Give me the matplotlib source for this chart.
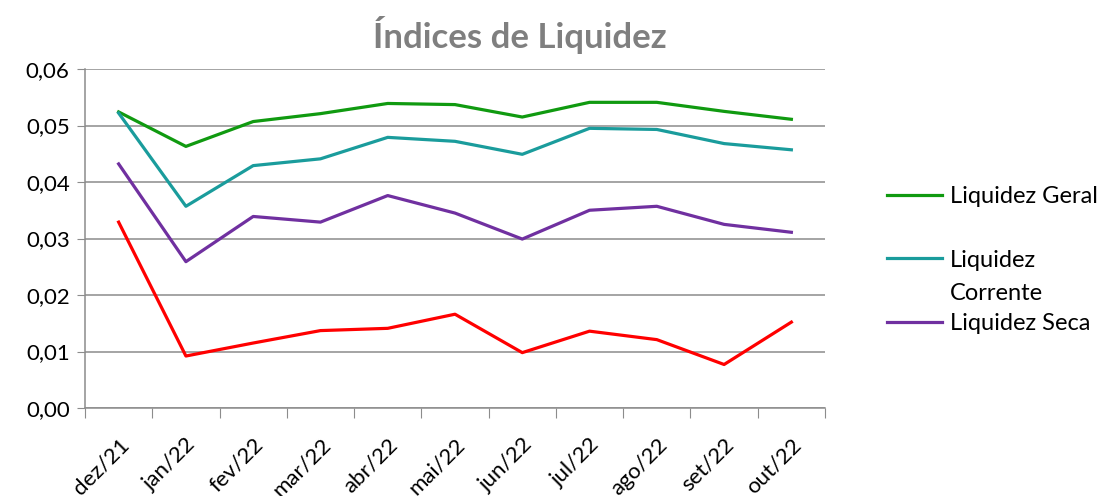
import matplotlib
matplotlib.use("Agg")
import matplotlib.pyplot as plt
from matplotlib.ticker import FuncFormatter

plt.rcParams['font.family'] = ['Lato', 'DejaVu Sans']

categories = ["dez/21", "jan/22", "fev/22", "mar/22", "abr/22", "mai/22",
              "jun/22", "jul/22", "ago/22", "set/22", "out/22"]
liq_geral = [0.0524, 0.0463, 0.0507, 0.0521, 0.0539, 0.0537, 0.0515, 0.0541, 0.0541, 0.0525, 0.0511]
liq_corrente = [0.0522, 0.0357, 0.0429, 0.0441, 0.0479, 0.0472, 0.0449, 0.0495, 0.0493, 0.0468, 0.0457]
liq_seca = [0.0432, 0.0259, 0.0339, 0.0329, 0.0376, 0.0345, 0.0299, 0.0350, 0.0357, 0.0325, 0.0311]
liq_imediata = [0.0329, 0.0092, 0.0115, 0.0137, 0.0141, 0.0166, 0.0098, 0.0136, 0.0121, 0.0077, 0.0152]
y_ticks = [0.00, 0.01, 0.02, 0.03, 0.04, 0.05, 0.06]

W, H = 1105, 496
fig = plt.figure(figsize=(W / 100, H / 100), dpi=100)
ax = fig.add_axes([85/W, 88/H, 740/W, 339/H])

x = list(range(len(categories)))
lw = 2.3
l1, = ax.plot(x, liq_geral, color="#109A10", lw=lw, label="Liquidez Geral")
l2, = ax.plot(x, liq_corrente, color="#1A9C9C", lw=lw, label="Liquidez")
l3, = ax.plot(x, liq_seca, color="#7030A0", lw=lw, label="Liquidez Seca")
l4, = ax.plot(x, liq_imediata, color="#FF0000", lw=lw)

ax.set_xlim(-0.5, len(categories) - 0.5)
ax.set_ylim(0, 0.06)
ax.set_yticks(y_ticks)
ax.yaxis.set_major_formatter(FuncFormatter(lambda v, p: f"{v:.2f}".replace(".", ",")))
ax.grid(axis="y", color="#8c8c8c", lw=1.1)
ax.set_axisbelow(True)

# category ticks at boundaries, labels at centers
ax.set_xticks([i - 0.5 for i in range(len(categories) + 1)])
ax.set_xticklabels([])
ax.set_xticks(x, minor=True)
ax.set_xticklabels(categories, minor=True, rotation=45, ha="right", va="top",
                   rotation_mode="anchor", fontsize=16)
ax.tick_params(axis="x", which="minor", length=0, pad=19)
ax.tick_params(axis="x", which="major", length=7, color="#8c8c8c", direction="out")
ax.tick_params(axis="y", length=6, color="#8c8c8c", labelsize=16, pad=5)

for s in ["top", "right"]:
    ax.spines[s].set_visible(False)
for s in ["left", "bottom"]:
    ax.spines[s].set_color("#8c8c8c")
    ax.spines[s].set_linewidth(1.1)

fig.text(520/W, 1 - 35/H, "Índices de Liquidez", ha="center", va="center",
         fontsize=25, fontweight="bold", color="#7f7f7f")

leg_fs = 17
leg = fig.legend(handles=[l1, l2, l3], loc="upper left",
                 bbox_to_anchor=(866/W, 1 - 165/H), frameon=False,
                 fontsize=leg_fs, handlelength=2.3, handletextpad=0.35, labelspacing=1.8)

# second line of the "Liquidez Corrente" label
fig.canvas.draw()
t = leg.get_texts()[1]
bb = t.get_window_extent()
fig.text(bb.x0 / W, (bb.y0 - 33) / H, "Corrente", ha="left", va="bottom",
         fontsize=leg_fs, color="black")

fig.savefig("out.png", dpi=100)
